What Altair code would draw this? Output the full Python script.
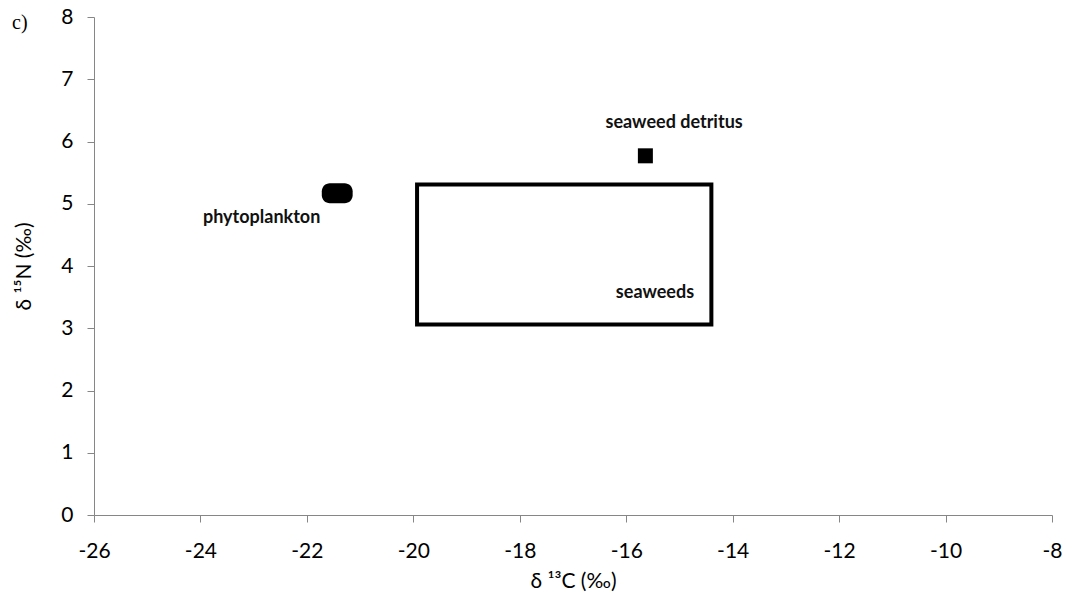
import altair as alt
import pandas as pd

# Source signatures (delta 13C, delta 15N, per mil)
seaweed_box_c = [-19.93, -14.4]
seaweed_box_n = [3.06, 5.31]

phyto_c = [-21.72, -21.14]
phyto_n = [5.01, 5.33]

detritus_c = [-15.64]
detritus_n = [5.77]

label_text = ["phytoplankton", "seaweed detritus", "seaweeds"]
label_c = [-22.85, -15.1, -15.46]
label_n = [4.77, 6.29, 3.57]

x_ticks = list(range(-26, -7, 2))
y_ticks = list(range(0, 9))

box = pd.DataFrame({"c1": [seaweed_box_c[0]], "c2": [seaweed_box_c[1]],
                    "n1": [seaweed_box_n[0]], "n2": [seaweed_box_n[1]]})
phyto = pd.DataFrame({"c1": [phyto_c[0]], "c2": [phyto_c[1]],
                      "n1": [phyto_n[0]], "n2": [phyto_n[1]]})
detritus = pd.DataFrame({"c": detritus_c, "n": detritus_n})
labels = pd.DataFrame({"t": label_text, "c": label_c, "n": label_n})

FONT = "Lato"
AXIS_GREY = "#868686"

xscale = alt.Scale(domain=[-26, -8], nice=False, zero=False)
yscale = alt.Scale(domain=[0, 8], nice=False, zero=False)

xaxis = alt.Axis(values=x_ticks, title="δ ¹³C (‰)", grid=False,
                 labelExpr="toString(datum.value)", labelFlush=False,
                 domainColor=AXIS_GREY, tickColor=AXIS_GREY, tickSize=7,
                 labelFont=FONT, labelFontSize=21, labelColor="#000000",
                 labelPadding=18, titleFont=FONT, titleFontSize=21,
                 titleFontWeight="normal", titleColor="#000000", titlePadding=9)
yaxis = alt.Axis(values=y_ticks, title="δ ¹⁵N (‰)", grid=False,
                 labelExpr="toString(datum.value)", labelFlush=False,
                 domainColor=AXIS_GREY, tickColor=AXIS_GREY, tickSize=7,
                 labelFont=FONT, labelFontSize=21, labelColor="#000000",
                 labelPadding=14, titleFont=FONT, titleFontSize=21,
                 titleFontWeight="normal", titleColor="#000000", titlePadding=26)

box_layer = alt.Chart(box).mark_rect(
    fill="white", fillOpacity=0, stroke="black", strokeWidth=4
).encode(
    x=alt.X("c1:Q", scale=xscale, axis=xaxis),
    x2="c2:Q",
    y=alt.Y("n1:Q", scale=yscale, axis=yaxis),
    y2="n2:Q",
)

phyto_layer = alt.Chart(phyto).mark_rect(
    color="black", cornerRadius=8
).encode(
    x=alt.X("c1:Q", scale=xscale),
    x2="c2:Q",
    y=alt.Y("n1:Q", scale=yscale),
    y2="n2:Q",
)

detritus_layer = alt.Chart(detritus).mark_square(
    size=225, color="black", opacity=1
).encode(
    x=alt.X("c:Q", scale=xscale),
    y=alt.Y("n:Q", scale=yscale),
)

label_layer = alt.Chart(labels).mark_text(
    font=FONT, fontSize=18, fontWeight="bold", color="#111111",
    align="center", baseline="middle"
).encode(
    x=alt.X("c:Q", scale=xscale),
    y=alt.Y("n:Q", scale=yscale),
    text="t:N",
)

panel_tag = alt.Chart(pd.DataFrame({"t": ["c)"]})).mark_text(
    font="Liberation Serif", fontSize=20, align="left", baseline="middle",
    color="#000000"
).encode(
    x=alt.value(-82),
    y=alt.value(6),
    text="t:N",
)

chart = alt.layer(box_layer, phyto_layer, detritus_layer, label_layer, panel_tag).properties(
    width=958,
    height=498,
    autosize=alt.AutoSizeParams(type="none"),
    padding={"left": 94, "top": 17, "right": 15, "bottom": 84},
    background="white",
).configure_view(stroke=None)

chart.save("out.html", embed_options={"renderer": "svg", "actions": False})
